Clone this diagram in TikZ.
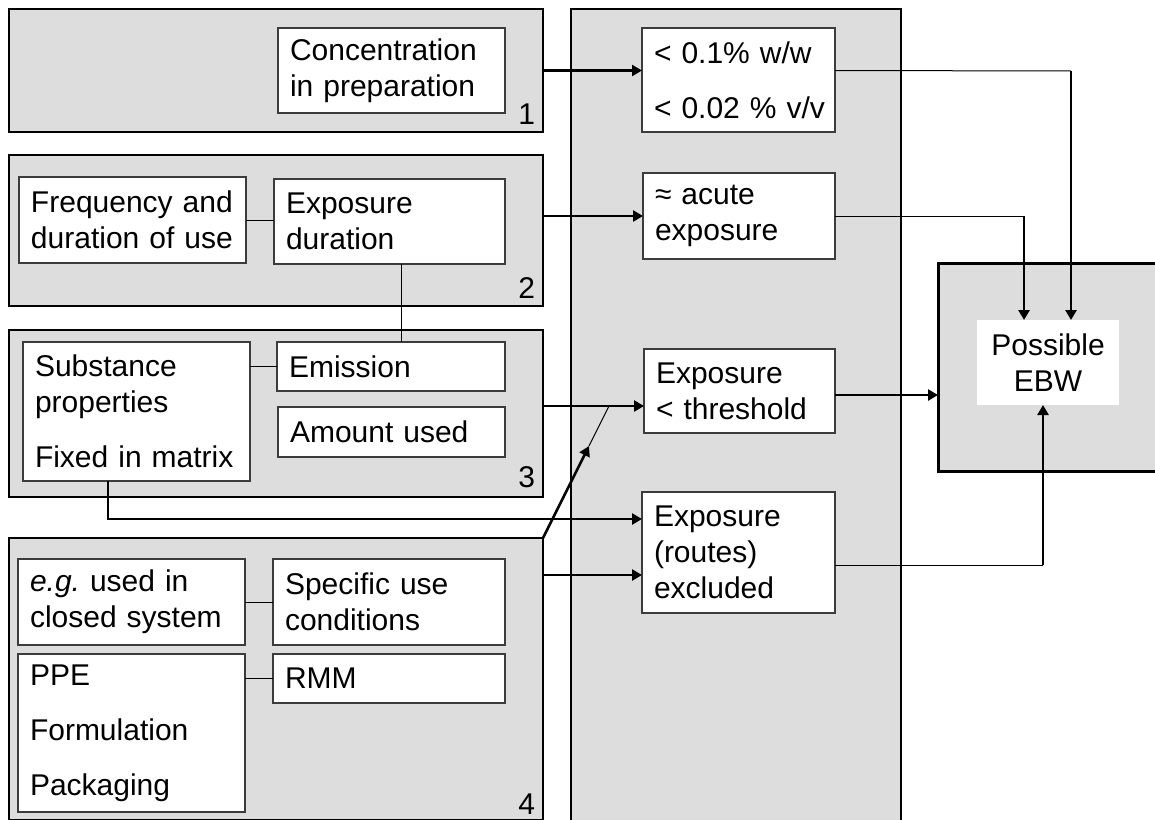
\documentclass[tikz,border=0pt]{standalone}
\usepackage{fontspec}
\setmainfont{Liberation Sans}
\usepackage{tikz}
\usetikzlibrary{arrows.meta}
\definecolor{panel}{RGB}{221,221,221}
\definecolor{edge}{RGB}{60,60,60}
\newcommand{\boxfont}{\fontsize{15pt}{18pt}\selectfont}
\frenchspacing

\begin{document}
\begin{tikzpicture}[x=0.5pt, y=-0.5pt,
  every node/.style={font=\boxfont, outer sep=0pt},
  group/.style={draw=black, fill=panel, line width=1.3pt, anchor=north west, inner sep=0pt},
  box/.style={draw=edge, fill=white, line width=0.6pt, anchor=north west, align=left, inner xsep=6pt, inner ysep=0pt},
  num/.style={anchor=base east, inner sep=0pt},
  feed/.style={line width=1.3pt, -{Triangle[length=5pt,width=5.5pt]}},
  link/.style={line width=0.5pt}]
  \useasboundingbox (0,0) rectangle (1155,819);
  % grey panels
  \node[group, minimum width=267pt, minimum height=61.5pt] (g1) at (9,9) {};
  \node[group, minimum width=267pt, minimum height=75.5pt] (g2) at (9,155) {};
  \node[group, minimum width=267pt, minimum height=83.5pt] (g3) at (9,330) {};
  \node[group, minimum width=267pt, minimum height=141pt] (g4) at (9,538) {};
  \node[group, line width=1pt, minimum width=165pt, minimum height=406pt] (col) at (571,9) {};
  \node[group, line width=1.5pt, minimum width=113.5pt, minimum height=104pt] (ebwout) at (938,263) {};
  \node[num] (n1) at ([xshift=-4pt,yshift=4pt]g1.south east) {1};
  \node[num] (n2) at ([xshift=-4pt,yshift=4pt]g2.south east) {2};
  \node[num] (n3) at ([xshift=-4pt,yshift=5pt]g3.south east) {3};
  \node[num] (n4) at ([xshift=-4pt,yshift=3pt]g4.south east) {4};
  % panel 1 and 2
  \node[box, text width=101.5pt, minimum height=42.5pt] (conc) at (278,28) {Concentration\\in preparation};
  \node[box, text width=101.5pt, minimum height=43pt] (freq) at (19,177) {\mbox{Frequency and}\\\mbox{duration of use}};
  \node[box, text width=103.5pt, minimum height=42.5pt] (expdur) at (274,179) {Exposure\\duration};
  % panel 3
  \node[box, text width=101.5pt, minimum height=69.5pt] (subst) at (23,342) {Substance\\properties\\[9.5pt]\mbox{Fixed in matrix}};
  \node[box, text width=102pt, minimum height=24.5pt] (emis) at (277,342) {Emission};
  \node[box, text width=101.5pt, minimum height=25pt] (amount) at (278,407) {Amount used};
  % panel 4
  \node[box, text width=101.5pt, minimum height=43pt] (eg) at (18,559) {\textit{e.g.} used in\\\mbox{closed system}};
  \node[box, text width=104pt, minimum height=43pt] (spec) at (273,559) {Specific use\\conditions};
  \node[box, text width=101.5pt, minimum height=79pt] (ppe) at (18,654) {PPE\\[9.5pt]Formulation\\[9.5pt]Packaging};
  \node[box, text width=104pt, minimum height=24.5pt] (rmm) at (273,654) {RMM};
  % middle column
  \node[box, text width=84.5pt, minimum height=52pt] (lim) at (642,28) {\mbox{< 0.1\% w/w}\\[9.5pt]\mbox{< 0.02 \% v/v}};
  \node[box, text width=84pt, minimum height=43pt] (acute) at (643,173) {≈ acute\\exposure};
  \node[box, text width=83.5pt, minimum height=42pt] (thresh) at (644,349) {Exposure\\\mbox{< threshold}};
  \node[box, text width=84.5pt, minimum height=60.5pt] (routes) at (642,492) {Exposure\\(routes)\\excluded};
  \node[fill=white, anchor=north west, align=center, text width=59pt, inner xsep=6pt, inner ysep=0pt,
        minimum height=42.5pt] (ebw) at (977,320) {Possible\\EBW};
  % helper points
  \coordinate (a3) at (543,406);
  \coordinate (a4) at (543,575);
  \coordinate (s3) at (108,519);
  \coordinate (v2) at (401,300);
  \coordinate (d1) at (589,446);
  \coordinate (d2) at (609,406);
  \coordinate (c1) at (1071,71);
  \coordinate (c2) at (1024,216);
  \coordinate (t3) at (835,395);
  \coordinate (c4) at (1043,565);
  % links inside the panels
  \draw[link] (freq.east) -- (freq.east -| expdur.west);
  \draw[link] (expdur.south -| v2) -- (emis.north -| v2);
  \draw[link] (emis.west -| subst.east) -- (emis.west);
  \draw[link] (eg.east) -- (spec.west);
  \draw[link] (rmm.west -| ppe.east) -- (rmm.west);
  % panels to middle column
  \draw[feed] (g1.east) -- (g1.east -| lim.west);
  \draw[feed] (acute.west -| g2.east) -- (acute.west);
  \draw[feed] (a3) -- (a3 -| thresh.west);
  \draw[feed] (a4) -- (a4 -| routes.west);
  \draw[feed] (subst.south -| s3) |- (s3 -| routes.west);
  \draw[feed] (g4.north east) -- (d1);
  \draw[link] (d1) -- (d2);
  % middle column to EBW
  \draw[link] (g1.east -| lim.east) -- (c1);
  \draw[feed] (c1) -- (c1 |- ebw.north);
  \draw[link] (acute.east) -- (c2);
  \draw[feed] (c2) -- (c2 |- ebw.north);
  \draw[feed] (t3) -- (t3 -| ebwout.west);
  \draw[link] (c4 -| routes.east) -- (c4);
  \draw[feed] (c4) -- (c4 |- ebw.south);
\end{tikzpicture}
\end{document}
